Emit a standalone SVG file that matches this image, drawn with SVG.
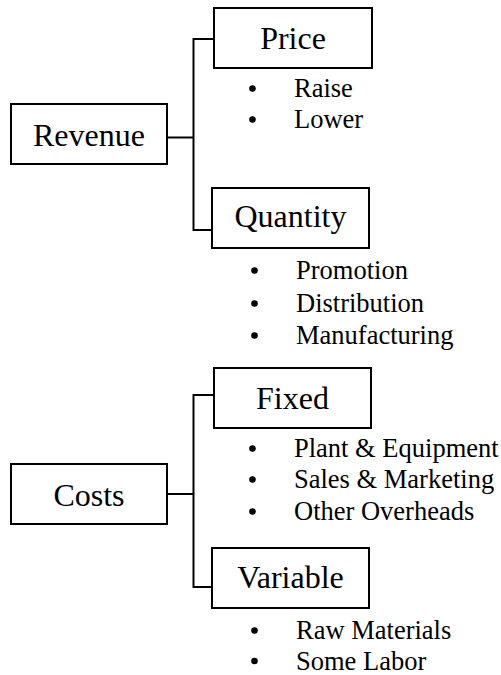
<svg xmlns="http://www.w3.org/2000/svg" width="501" height="675" viewBox="0 0 501 675">
<style>
text{font-family:"Liberation Serif","Times New Roman",Times,serif;fill:#000}
.bt{font-size:32px;text-anchor:middle}
.it{font-size:26.5px}
.conn path{fill:none;stroke:#000;stroke-width:2}
.box{fill:#fff;stroke:#000;stroke-width:2}
.dot{fill:#000}
</style>
<rect width="501" height="675" fill="#fff"/>
<g class="conn" id="connectors">
<path d="M167 137.5 H193.5"/>
<path d="M215 39 H193.5 V230 H212"/>
<path d="M167 494 H193.5"/>
<path d="M215 395 H193.5 V587 H212"/>
</g>
<g id="revenue">
<rect class="box" x="11" y="104" width="156" height="60"/>
<text class="bt" x="89" y="146">Revenue</text>
</g>
<g id="price">
<rect class="box" x="214" y="8" width="158" height="60"/>
<text class="bt" x="293" y="49">Price</text>
<circle class="dot" cx="252.5" cy="88.5" r="3.3"/><text class="it" x="294" y="97">Raise</text>
<circle class="dot" cx="252.5" cy="119.5" r="3.3"/><text class="it" x="294" y="128">Lower</text>
</g>
<g id="quantity">
<rect class="box" x="212" y="188" width="157" height="60"/>
<text class="bt" x="290.5" y="227">Quantity</text>
<circle class="dot" cx="254.5" cy="270.5" r="3.3"/><text class="it" x="296" y="279">Promotion</text>
<circle class="dot" cx="254.5" cy="303.5" r="3.3"/><text class="it" x="296" y="312">Distribution</text>
<circle class="dot" cx="254.5" cy="335.5" r="3.3"/><text class="it" x="296" y="344">Manufacturing</text>
</g>
<g id="costs">
<rect class="box" x="11" y="464" width="156" height="60"/>
<text class="bt" x="89" y="506">Costs</text>
</g>
<g id="fixed">
<rect class="box" x="214" y="368" width="157" height="60"/>
<text class="bt" x="292.5" y="409">Fixed</text>
<circle class="dot" cx="252.5" cy="448.5" r="3.3"/><text class="it" x="294" y="457">Plant &amp; Equipment</text>
<circle class="dot" cx="252.5" cy="479.5" r="3.3"/><text class="it" x="294" y="488">Sales &amp; Marketing</text>
<circle class="dot" cx="252.5" cy="511.5" r="3.3"/><text class="it" x="294" y="520">Other Overheads</text>
</g>
<g id="variable">
<rect class="box" x="212" y="548" width="157" height="60"/>
<text class="bt" x="290.5" y="588">Variable</text>
<circle class="dot" cx="254.5" cy="630.5" r="3.3"/><text class="it" x="296" y="639">Raw Materials</text>
<circle class="dot" cx="254.5" cy="661" r="3.3"/><text class="it" x="296" y="669.5">Some Labor</text>
</g>
</svg>
